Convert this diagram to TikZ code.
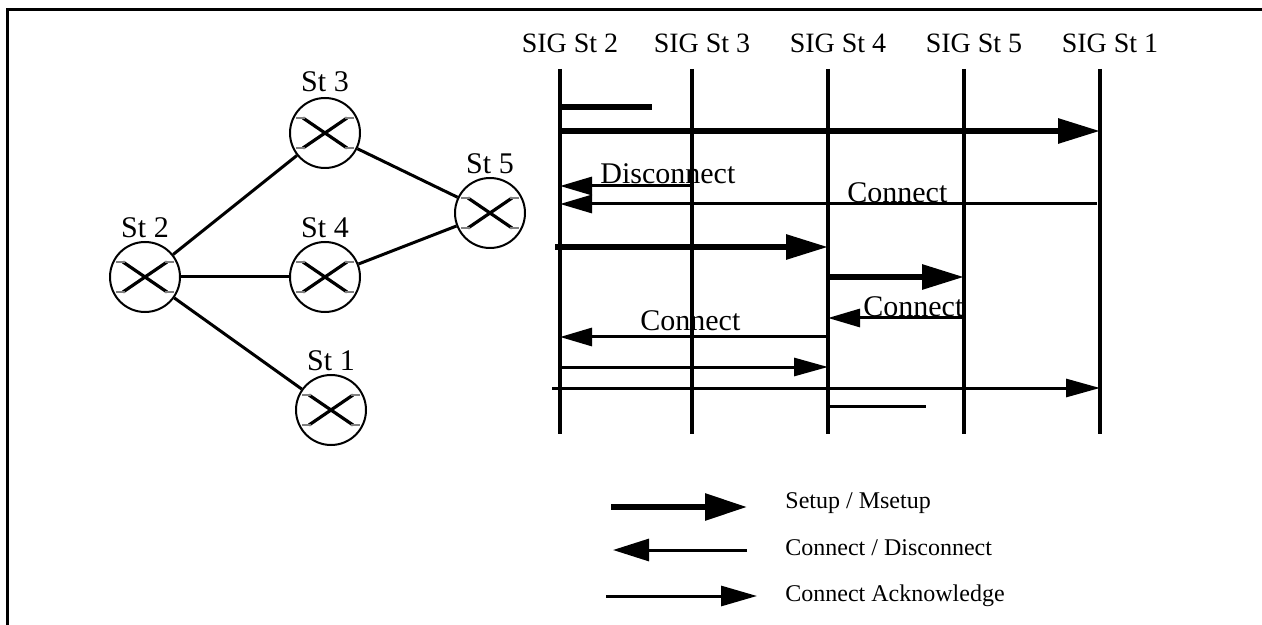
\documentclass[tikz,border=0pt]{standalone}
\usepackage{fontspec}
\setmainfont{Liberation Serif}
\usetikzlibrary{arrows.meta,positioning,calc}

\begin{document}
\begin{tikzpicture}[
	x=0.5pt, y=-0.5pt,
	station/.style={
		draw, circle,
		line width=1pt,
		minimum size=35pt,
		inner sep=0pt
	},
	stlabel/.style={inner sep=0pt, font=\fontsize{15}{18}\selectfont},
	link/.style={line width=1.5pt},
	cross/.style={line width=1.6pt},
	tick/.style={line width=0.9pt, gray},
	sighead/.style={inner sep=0pt, anchor=base, font=\fontsize{14}{17}\selectfont},
	lifeline/.style={line width=1.7pt},
	setup/.style={line width=3pt, -{Triangle[length=21pt, width=12pt]}},
	conn/.style={line width=1.5pt, -{Triangle[length=16pt, width=9pt]}},
	ack/.style={line width=1.5pt, -{Triangle[length=17pt, width=9pt]}},
	msg/.style={inner sep=0pt, anchor=base west, font=\fontsize{15}{18}\selectfont},
	legtext/.style={inner sep=0pt, anchor=base west, font=\fontsize{12}{14}\selectfont},
	frame/.style={line width=1.5pt}
	]
	
	\useasboundingbox (0,0) rectangle (1262,625);
	\draw[frame] (1262,10) -| (7,625);
	
	% network
	\node[station] (st3) at (325,133) {};
	\node[station] (st2) at (145,277) {};
	\node[station] (st4) at (325,277) {};
	\node[station] (st5) at (490,213) {};
	\node[station] (st1) at (331,410) {};
	
	\node[stlabel, above=2.5pt of st3] (st3lbl) {St 3};
	\node[stlabel, above=1.5pt of st2] (st2lbl) {St 2};
	\node[stlabel, above=1.5pt of st4] (st4lbl) {St 4};
	\node[stlabel, above=1.5pt of st5] (st5lbl) {St 5};
	\node[stlabel, above=1.5pt of st1] (st1lbl) {St 1};
	
	\draw[link] (st2) -- (st3);
	\draw[link] (st2) -- (st4);
	\draw[link] (st2) -- (st1);
	\draw[link] (st3) -- (st5);
	\draw[link] (st4) -- (st5);
	
	\foreach \s in {st1,st2,st3,st4,st5} {
		\draw[cross] ([shift={(-22,-15)}]\s.center) -- ([shift={(22,15)}]\s.center);
		\draw[cross] ([shift={(-22,15)}]\s.center) -- ([shift={(22,-15)}]\s.center);
		\foreach \dy in {-15,15} {
			\draw[tick] ([shift={(-29,\dy)}]\s.center) -- ++(9,0);
			\draw[tick] ([shift={(20,\dy)}]\s.center) -- ++(9,0);
		}
	}
	
	% signalling
	\foreach \n/\x in {2/560,3/692,4/828,5/964,1/1100} {
		\node[sighead] (sig\n) at (\x+10,53) {SIG St \n};
		\coordinate (t\n) at (\x,69);
		\coordinate (b\n) at (\x,434);
		\draw[lifeline] (t\n) -- (b\n);
	}
	
	\draw[setup, -] (t2 |- 0,107) -- ($(t2 |- 0,107)+(92,0)$);
	\draw[setup] (t2 |- 0,131) -- (t1 |- 0,131);
	\draw[conn] (t3 |- 0,186) -- (t2 |- 0,186);
	\node[msg] (disc) at (600,184) {Disconnect};
	\draw[conn] ($(t1 |- 0,204)+(-3,0)$) -- (t2 |- 0,204);
	\node[msg] (con1) at (847,203) {Connect};
	\draw[setup] ($(t2 |- 0,247)+(-5,0)$) -- (t4 |- 0,247);
	\draw[setup] (t4 |- 0,277) -- (t5 |- 0,277);
	\draw[conn] (t5 |- 0,318) -- (t4 |- 0,318);
	\node[msg] (con2) at (863,317) {Connect};
	\draw[conn] (t4 |- 0,337) -- (t2 |- 0,337);
	\node[msg] (con3) at (640,330) {Connect};
	\draw[ack] (t2 |- 0,367) -- (t4 |- 0,367);
	\draw[ack] ($(t2 |- 0,388)+(-8,0)$) -- (t1 |- 0,388);
	\draw[conn, -] (t4 |- 0,406) -- ($(t4 |- 0,406)+(98,0)$);
	
	% legend
	\node[legtext] (legsetup) at (785,508) {Setup / Msetup};
	\node[legtext] (legconn)  at (785,555) {Connect / Disconnect};
	\node[legtext] (legack)   at (785,601) {Connect Acknowledge};
	
	\coordinate (la1) at (611,507);
	\coordinate (la2) at (747,507);
	\coordinate (lb1) at (747,550);
	\coordinate (lb2) at (613,550);
	\coordinate (lc1) at (606,596);
	\coordinate (lc2) at (757,596);
	
	\draw[setup, -{Triangle[length=21pt, width=13pt]}] (la1) -- (la2);
	\draw[conn, -{Triangle[length=18pt, width=11pt]}]  (lb1) -- (lb2);
	\draw[ack, -{Triangle[length=18pt, width=10pt]}]   (lc1) -- (lc2);
	
\end{tikzpicture}
\end{document}
